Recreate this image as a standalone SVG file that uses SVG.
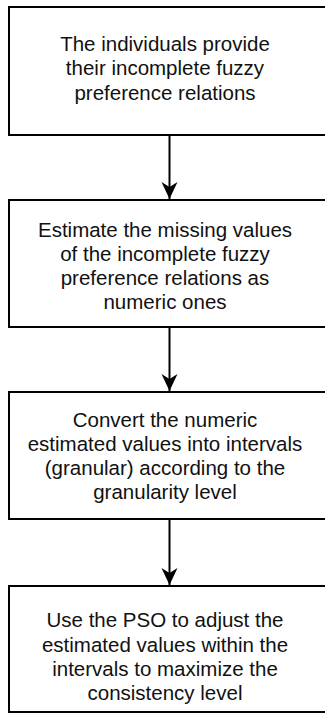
<svg xmlns="http://www.w3.org/2000/svg" width="325" height="714" viewBox="0 0 325 714">
<style>
.box{fill:#fff;stroke:#000;stroke-width:2}
.t{font-family:"Liberation Sans",Arial,Helvetica,sans-serif;font-size:20.5px;fill:#111;text-anchor:middle}
.c{stroke:#000;stroke-width:2;fill:none}
</style>
<defs>
<marker id="ah" markerUnits="userSpaceOnUse" markerWidth="20" markerHeight="18" refX="17" refY="8" orient="auto">
<path d="M0,0 L17,8 L0,16 L5,8 Z" fill="#000"/>
</marker>
</defs>
<g id="n1">
<rect class="box" x="9" y="7" width="330" height="128"/>
<text class="t" x="165" y="50.5">The individuals provide</text>
<text class="t" x="165" y="75">their incomplete fuzzy</text>
<text class="t" x="165" y="99.5">preference relations</text>
</g>
<g id="n2">
<rect class="box" x="9" y="200" width="330" height="127"/>
<text class="t" x="165" y="237">Estimate the missing values</text>
<text class="t" x="165" y="261">of the incomplete fuzzy</text>
<text class="t" x="165" y="285">preference relations as</text>
<text class="t" x="165" y="309">numeric ones</text>
</g>
<g id="n3">
<rect class="box" x="9" y="392" width="330" height="127"/>
<text class="t" x="165" y="427">Convert the numeric</text>
<text class="t" x="165" y="451">estimated values into intervals</text>
<text class="t" x="165" y="475">(granular) according to the</text>
<text class="t" x="165" y="498.5">granularity level</text>
</g>
<g id="n4">
<rect class="box" x="9" y="586" width="330" height="126"/>
<text class="t" x="165" y="627">Use the PSO to adjust the</text>
<text class="t" x="165" y="651.5">estimated values within the</text>
<text class="t" x="165" y="676">intervals to maximize the</text>
<text class="t" x="165" y="699.5">consistency level</text>
</g>
<g id="connectors">
<line class="c" x1="169.5" y1="136" x2="169.5" y2="199" marker-end="url(#ah)"/>
<line class="c" x1="169.5" y1="328" x2="169.5" y2="391" marker-end="url(#ah)"/>
<line class="c" x1="169.5" y1="520" x2="169.5" y2="585" marker-end="url(#ah)"/>
</g>
</svg>
